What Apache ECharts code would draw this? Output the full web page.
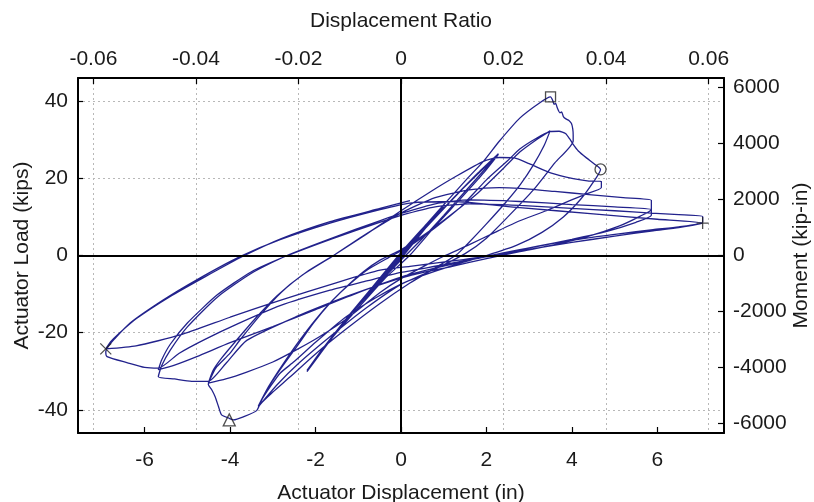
<!DOCTYPE html>
<html>
<head>
<meta charset="utf-8">
<script src="https://cdn.jsdelivr.net/npm/echarts@6/dist/echarts.min.js"></script>
<style>
html,body{margin:0;padding:0;background:#fff;}
#chart{width:814px;height:502px;}
</style>
</head>
<body>
<div id="chart"></div>
<script>
// Axis ranges
const dispRange = [-7.56, 7.56];        // Actuator Displacement (in)
const ratioRange = [-0.063, 0.063];     // Displacement Ratio
const loadRange = [-46, 46];            // Actuator Load (kips)
const momentRange = [-6345, 6345];      // Moment (kip-in)

// Hysteresis path, [displacement (in), load (kips)], in loading order
const smallCycles = [
  [0,0],[0.25,3.1],[0.5,6.4],[0.35,4.2],[0,-0.3],[-0.25,-3.3],[-0.5,-6.6],[-0.35,-4.5],[0,0.2],[0.25,3.4],[0.5,6.2],[0.3,3.5],[0,-0.5],[-0.5,-6.4],[-0.3,-3.8],[0,0],
  [0.5,6.2],[1.0,12.9],[0.7,9.0],[0.3,3.5],[0,-0.6],[-0.5,-6.8],[-1.04,-13.4],[-0.7,-9.2],[-0.3,-3.8],[0,0.5],[0.5,6.8],[1.0,12.6],[0.6,7.4],[0,-0.8],[-0.5,-7.0],[-1.04,-13.2],[-0.6,-7.8],[0,0.4]
];
const cycles2in = [
  [0.6,7.6],[1.2,14.6],[1.8,21.4],[2.28,26.4],
  [2.0,22.8],[1.5,16.6],[1.0,10.4],[0.5,4.4],[0,-1.2],[-0.6,-8.2],[-1.2,-15.6],[-1.7,-22.4],[-2.2,-30.1],
  [-1.9,-25.6],[-1.4,-18.2],[-0.8,-10.0],[-0.3,-3.4],[0.2,2.6],[0.8,9.8],[1.4,16.8],[1.9,22.2],[2.28,26.2],
  [1.95,21.6],[1.4,14.8],[0.8,7.6],[0.2,0],[-0.4,-6.2],[-1.0,-13.6],[-1.6,-21.2],[-2.2,-29.8]
];
const cycles3pct = [
  [-1.85,-24.4],[-1.3,-16.6],[-0.7,-8.6],[0,0.8],[0.6,8.2],[1.15,15.0],[1.54,19.8],[1.93,24.4],[2.3,29.6],[2.78,35.6],[3.25,39.6],[3.5,41.1],
  [3.55,40.2],[3.58,39.2],[3.62,39.4],[3.66,38.2],[3.72,37.0],[3.76,37.2],[3.8,36.0],[3.86,35.4],[3.93,35.0],[3.99,34.2],[4.02,32.8],[4.03,31.2],[4.03,29.7],
  [3.6,24.0],[3.1,17.0],[2.5,10.0],[2.0,4.5],[1.5,0.5],[0.8,-3.5],[0,-7.5],[-0.8,-13.5],[-1.6,-20.5],[-2.4,-28.0],[-2.9,-33.5],[-3.34,-39.2],
  [-3.14,-34.8],[-2.83,-29.6],[-2.44,-23.6],[-2.05,-17.5],[-1.66,-12.3],[-1.27,-8.0],[-0.88,-4.2],[-0.49,-1.2],[0,1.5],[0.6,5.8],[1.2,10.8],[1.8,16.2],[2.4,22.6],[2.78,26.8],[3.17,30.0],[3.49,32.3],
  [3.35,28.5],[3.1,23.5],[2.8,18.5],[2.47,14.0],[2.0,8.2],[1.54,2.8],[1.3,0.2],[0.8,-3.2],[0.2,-7.2],[-0.5,-12.5],[-1.3,-19.2],[-2.0,-25.5],[-2.6,-31.5],[-3.0,-35.4],[-3.34,-39.0],
  [-3.1,-34.0],[-2.8,-28.8],[-2.4,-22.4],[-2.0,-16.6],[-1.6,-11.6],[-1.2,-7.4],[-0.8,-3.8],[-0.3,-0.6],[0.2,2.4],[0.8,7.2],[1.4,12.6],[2.0,19.6],[2.5,24.6],[2.78,27.6],[3.17,30.4],[3.49,32.1]
];
const cycles4pct = [
  [3.7,32.2],[3.85,31.6],[3.95,30.2],[4.03,28.8],[4.15,27.1],[4.34,25.3],[4.54,23.6],[4.67,22.3],
  [4.5,19.0],[4.2,14.5],[3.8,10.0],[3.3,6.0],[2.7,2.6],[2.0,0],[1.2,-2.6],[0.4,-5.6],[0,-7.4],[-0.6,-11.0],[-1.3,-16.0],[-2.0,-22.5],[-2.5,-27.5],[-2.83,-30.5],[-3.06,-34.0],[-3.26,-37.4],[-3.38,-40.2],[-3.69,-41.8],[-3.92,-42.6],[-4.02,-42.2],[-4.2,-41.3],[-4.27,-39.2],[-4.35,-36.6],[-4.43,-34.8],[-4.51,-33.4],
  [-4.4,-30.5],[-4.31,-28.8],[-4.0,-25.3],[-3.77,-21.9],[-3.3,-15.5],[-2.8,-9.5],[-2.2,-4.2],[-1.58,0],[-0.8,5.6],[0,11.6],[0.7,16.6],[1.3,20.6],[1.93,24.4],[2.3,25.4],[2.65,25.3],[3.0,23.8],[3.5,21.4],[4.03,19.9],[4.4,19.3],[4.69,19.2],
  [4.69,17.6],[4.3,15.8],[3.95,14.2],[3.4,11.6],[2.78,9.0],[2.2,6.0],[1.6,2.8],[1.0,-0.2],[0.5,-3.0],[0,-6.0],[-0.49,-9.6],[-1.27,-16.4],[-1.9,-21.0],[-2.44,-24.4],[-3.0,-27.6],[-3.61,-30.2],[-4.1,-32.0],[-4.51,-33.1]
];
const cycles5pct = [
  [-4.4,-29.8],[-4.2,-26.6],[-3.9,-22.6],[-3.4,-16.2],[-2.9,-10.4],[-2.3,-5.0],[-1.62,-0.3],[-0.9,5.0],[0,11.0],[0.8,15.0],[1.6,17.0],[2.3,17.6],[2.78,17.4],[3.6,16.6],[4.4,15.8],[5.2,15.0],[5.86,14.3],
  [5.86,12.0],[5.6,10.2],[5.1,7.6],[4.34,4.8],[3.6,2.8],[2.78,1.0],[2.0,-0.8],[1.2,-2.8],[0.21,-5.2],[-0.5,-7.6],[-1.27,-10.6],[-2.44,-15.8],[-3.61,-22.0],[-4.1,-28.0],[-4.51,-32.6],[-4.9,-32.6],[-5.3,-32.0],[-5.68,-31.4],
  [-5.6,-28.5],[-5.4,-24.5],[-5.0,-18.5],[-4.3,-10.8],[-3.5,-4.6],[-2.67,0],[-1.6,4.6],[-0.5,9.0],[0,10.9],[0.8,13.4],[1.6,14.4],[2.78,14.0],[4.0,13.2],[5.0,12.6],[5.86,11.9],
  [5.86,10.4],[5.5,8.6],[4.8,6.2],[4.0,4.2],[3.2,2.4],[2.4,0.6],[1.6,-1.2],[0.6,-3.8],[0,-5.6],[-1.0,-9.6],[-2.0,-14.0],[-3.0,-18.4],[-4.0,-22.6],[-4.78,-26.2],[-5.3,-28.4],[-5.68,-29.6]
];
const cycles6pct = [
  [-5.6,-27.0],[-5.4,-23.0],[-5.0,-17.5],[-4.3,-10.2],[-3.5,-4.2],[-2.7,-0.2],[-1.6,4.4],[-0.5,8.6],[0,10.4],[0.8,12.6],[1.6,13.4],[2.78,13.0],[4.0,12.2],[5.0,11.6],[5.86,11.0],[6.5,10.6],[7.06,10.1],
  [7.06,8.6],[6.5,7.4],[5.9,6.7],[5.1,5.6],[4.34,4.5],[3.5,3.0],[2.78,1.5],[2.0,-0.2],[1.0,-2.4],[0,-4.4],[-0.8,-6.6],[-1.66,-9.0],[-2.83,-13.0],[-3.8,-17.6],[-4.6,-21.8],[-5.2,-25.4],[-5.68,-29.2],[-6.0,-29.0],[-6.4,-27.8],[-6.88,-26.2],[-6.91,-25.0],
  [-6.85,-23.5],[-6.73,-21.9],[-6.34,-17.5],[-5.56,-11.5],[-4.78,-6.3],[-3.77,-0.3],[-2.83,4.1],[-1.66,8.4],[-0.49,11.9],[0.21,13.6],[1.2,14.0],[2.78,12.4],[4.5,10.8],[6.0,9.4],[7.06,8.4],
  [6.5,7.2],[5.9,6.4],[5.0,5.0],[4.0,3.4],[3.0,1.6],[2.2,0],[1.2,-1.4],[0.21,-2.8],[-0.49,-3.8],[-1.5,-7.0],[-2.83,-11.6],[-4.0,-16.0],[-5.17,-20.6],[-6.2,-23.4],[-6.91,-24.2],
  [-6.8,-22.4],[-6.6,-20.2],[-6.2,-16.4],[-5.4,-10.6],[-4.6,-5.6],[-3.7,-0.2],[-2.8,4.4],[-1.66,8.8],[-0.49,12.2],[0.21,14.2]
];

// Event markers
const markerNames = ['square','circle','plus','cross','triangle'];
const markerDisp  = [3.5, 4.67, 7.06, -6.91, -4.02];
const markerLoad  = [41.1, 22.3, 8.4, -24.2, -42.6];

const path = [].concat(smallCycles, cycles2in, cycles3pct, cycles4pct, cycles5pct, cycles6pct);

const symbolFor = {
  square: 'rect',
  circle: 'circle',
  triangle: 'triangle',
  plus: 'path://M5,0L5,10M0,5L10,5',
  cross: 'path://M0,0L10,10M10,0L0,10'
};
const sizeFor = {square: 10, circle: 11, triangle: 12, plus: 12, cross: 11};

const chart = echarts.init(document.getElementById('chart'), null, {renderer: 'canvas'});
const FONT = 'Liberation Sans, Arial, sans-serif';
const labelStyle = {color: '#1a1a1a', fontSize: 21, fontFamily: FONT};
const nameStyle = {color: '#1a1a1a', fontSize: 21, fontFamily: FONT};
const frameLine = {show: true, onZero: false, lineStyle: {color: '#000', width: 2}};
const tickStyle = {show: true, inside: true, length: 6, lineStyle: {color: '#000', width: 1.2}};
const gridDots = {show: true, lineStyle: {color: '#b8b8b8', width: 1, type: [2, 3]}};
const plain = v => String(v);

chart.setOption({
  animation: false,
  backgroundColor: '#fff',
  grid: {left: 78, right: 90, top: 78, bottom: 69, containLabel: false, outerBoundsMode: 'none'},
  xAxis: [
    {
      type: 'value', position: 'bottom', min: dispRange[0], max: dispRange[1], splitNumber: 7,
      axisLine: frameLine, axisTick: tickStyle,
      axisLabel: Object.assign({margin: 17, showMinLabel: false, showMaxLabel: false, formatter: plain}, labelStyle),
      splitLine: {show: false},
      name: 'Actuator Displacement (in)', nameLocation: 'middle', nameGap: 50, nameTextStyle: nameStyle
    },
    {
      type: 'value', position: 'top', min: ratioRange[0], max: ratioRange[1], splitNumber: 6,
      axisLine: frameLine, axisTick: tickStyle,
      axisLabel: Object.assign({margin: 8, showMinLabel: false, showMaxLabel: false, formatter: plain}, labelStyle),
      splitLine: gridDots,
      name: 'Displacement Ratio', nameLocation: 'middle', nameGap: 46, nameTextStyle: nameStyle
    }
  ],
  yAxis: [
    {
      type: 'value', position: 'left', min: loadRange[0], max: loadRange[1], splitNumber: 5,
      axisLine: frameLine, axisTick: Object.assign({}, tickStyle, {length: 5}),
      axisLabel: Object.assign({margin: 10, showMinLabel: false, showMaxLabel: false, formatter: plain}, labelStyle),
      splitLine: gridDots,
      name: 'Actuator Load (kips)', nameLocation: 'middle', nameGap: 45, nameMoveOverlap: false, nameTextStyle: nameStyle
    },
    {
      type: 'value', position: 'right', min: momentRange[0], max: momentRange[1], splitNumber: 6,
      axisLine: frameLine, axisTick: tickStyle,
      axisLabel: Object.assign({margin: 9, showMinLabel: false, showMaxLabel: false, formatter: plain}, labelStyle),
      splitLine: {show: false},
      name: 'Moment (kip-in)', nameLocation: 'middle', nameGap: 67, nameMoveOverlap: false, nameTextStyle: nameStyle
    }
  ],
  series: [
    {
      type: 'line', xAxisIndex: 0, yAxisIndex: 0, data: path,
      showSymbol: false, smooth: 0.2, silent: true,
      lineStyle: {color: '#22228c', width: 1.3},
      markLine: {
        silent: true, symbol: 'none', animation: false,
        label: {show: false},
        lineStyle: {color: '#000', width: 2, type: 'solid'},
        data: [{xAxis: 0}, {yAxis: 0}]
      },
      z: 2
    },
    {
      type: 'scatter', xAxisIndex: 0, yAxisIndex: 0, silent: true, z: 5,
      data: markerNames.map((n, i) => ({
        value: [markerDisp[i], markerLoad[i]],
        symbol: symbolFor[n], symbolSize: sizeFor[n]
      })),
      itemStyle: {color: 'none', borderColor: '#222', borderWidth: 1.3}
    }
  ]
});
</script>
</body>
</html>
